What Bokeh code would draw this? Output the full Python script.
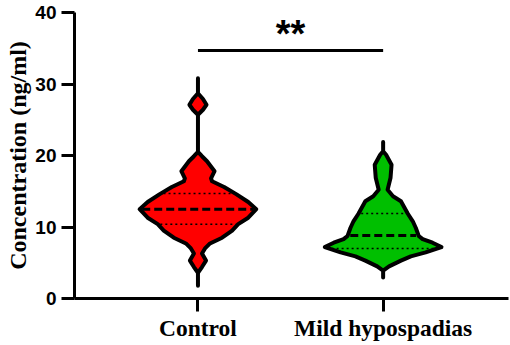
import numpy as np
from bokeh.plotting import figure
from bokeh.models import FixedTicker, Range1d, Title
from bokeh.embed import file_html
from bokeh.resources import INLINE
from bokeh.core.properties import value

# ---- data ----
categories = ["Control", "Mild hypospadias"]
positions = [1, 2]
colors = ["#ff0000", "#00bf00"]
y_ticks = [0, 10, 20, 30, 40]
y_title = "Concentration (ng/ml)"

# violin density profiles (value, relative density)
control_y = [1.8, 3.6, 4.4, 5.3, 6.3, 7.0, 7.7, 8.5, 9.5, 10.4, 11.3, 12.5, 13.5, 14.6,
             15.6, 16.4, 16.8, 17.8, 19.2, 19.9, 20.5, 25.7, 26.4, 27.1, 27.9, 28.7, 30.8]
control_density = [0, 0, 4, 8, 4, 7, 12, 24, 34, 40, 50, 58, 50, 38,
                   26, 14, 13, 16.5, 9, 4, 0, 0, 5, 8.5, 5, 0, 0]
mild_y = [2.95, 3.9, 4.5, 5.3, 5.9, 6.45, 7.2, 7.8, 8.3, 8.75, 9.9, 10.8, 11.85,
          13.6, 14.3, 15.2, 16.9, 18.7, 20.1, 20.6, 21.9]
mild_density = [0, 0, 6, 18, 28, 43, 59, 50, 40, 36, 33, 30, 25,
                18, 10, 4.5, 7.5, 8.5, 3, 0, 0]

control_quartiles = [10.4, 12.5, 14.7]
mild_quartiles = [7.0, 8.8, 11.9]

sig_pair = [1, 2]
sig_level = 34.7
sig_text = "**"

profiles = [(control_y, control_density), (mild_y, mild_density)]
quartiles = [control_quartiles, mild_quartiles]

MAX_HALF = 0.315

p = figure(width=510, height=345, output_backend="svg", toolbar_location=None,
           x_range=Range1d(0.3333, 2.677), y_range=Range1d(0, 40),
           min_border_left=72, min_border_right=2, min_border_top=12,
           min_border_bottom=47)
p.outline_line_color = None
p.grid.visible = False
p.background_fill_color = "white"

for pos, (ys, ds), col, qs in zip(positions, profiles, colors, quartiles):
    ys = np.array(ys, float)
    w = np.array(ds, float) / max(ds) * MAX_HALF
    xs = np.concatenate([pos - w, (pos + w)[::-1]])
    yy = np.concatenate([ys, ys[::-1]])
    p.patch(xs, yy, fill_color=col, line_color="black", line_width=4, line_join="round")
    inset = 0.014
    for i, q in enumerate(qs):
        hw = np.interp(q, ys, w) - inset
        if i == 1:
            p.segment(x0=[pos - hw], y0=[q], x1=[pos + hw], y1=[q], line_color="black",
                      line_width=3, line_dash="8 4")
        else:
            p.segment(x0=[pos - hw], y0=[q], x1=[pos + hw], y1=[q], line_color="black",
                      line_width=1.5, line_dash="2 3")

# significance bar
p.segment(x0=[sig_pair[0]], y0=[sig_level], x1=[sig_pair[1]], y1=[sig_level],
          line_color="black", line_width=3)
p.text(x=[(sig_pair[0] + sig_pair[1]) / 2], y=[sig_level + 2.3], text=[sig_text],
       text_font=value("Liberation Sans"), text_font_style="bold", text_font_size="38px",
       text_align="center", text_baseline="alphabetic", text_color="black")

# axes
for ax in (p.xaxis[0], p.yaxis[0]):
    ax.axis_line_width = 3
    ax.axis_line_color = "black"
    ax.major_tick_line_width = 3
    ax.major_tick_line_color = "black"
    ax.major_tick_out = 13
    ax.major_tick_in = 0
    ax.minor_tick_line_color = None
    ax.major_label_text_color = "black"

p.xaxis.ticker = FixedTicker(ticks=positions)
p.xaxis.major_label_overrides = {pos: c for pos, c in zip(positions, categories)}
p.xaxis.major_label_text_font = "Liberation Serif"
p.xaxis.major_label_text_font_style = "bold"
p.xaxis.major_label_text_font_size = "23.5px"
p.xaxis.major_label_standoff = 3

p.yaxis.ticker = FixedTicker(ticks=y_ticks)
p.yaxis.major_label_text_font = "Liberation Sans"
p.yaxis.major_label_text_font_style = "bold"
p.yaxis.major_label_text_font_size = "19px"
p.yaxis.major_label_standoff = 5

# y-axis title as a left-side title, nudged up as in the reference
p.add_layout(Title(text=y_title, align="center", offset=22, standoff=4,
                   text_font="Liberation Serif", text_font_style="bold",
                   text_font_size="24px", text_color="black"), "left")

open("out.html", "w").write(file_html(p, INLINE))
